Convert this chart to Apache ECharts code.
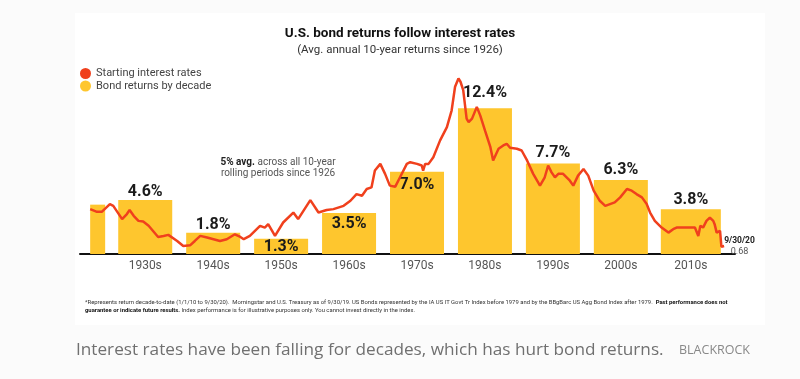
<!DOCTYPE html>
<html><head><meta charset="utf-8">
<script src="https://cdn.jsdelivr.net/npm/echarts@6/dist/echarts.min.js"></script>
<style>html,body{margin:0;padding:0;background:#fbfbfb;}#c{width:800px;height:379px;}</style>
</head><body><div id="c"></div>
<script>
// ---- data ----
const decadeLabels = ['1930s','1940s','1950s','1960s','1970s','1980s','1990s','2000s','2010s'];
const decadeCenters = [1935, 1945, 1955, 1965, 1975, 1985, 1995, 2005, 2015.3];
const decadeReturns = [4.6, 1.8, 1.3, 3.5, 7.0, 12.4, 7.7, 6.3, 3.8];
const partialCenter = [1928.0];
const partialReturn = [4.2];
const rateYears = [
  1926.9,1927.9,1928.6,1929.8,1930.3, 1931.6,1932.3,1932.7,1933.3,1934.0,
  1934.7,1935.5,1936.9,1937.7,1938.4, 1939.7,1940.6,1941.6,1942.3,1943.1,
  1944.1,1946.0,1947.0,1948.2,1949.0, 1949.5,1950.4,1951.9,1952.6,1953.1,
  1954.1,1955.3,1956.8,1957.5,1959.3, 1960.5,1961.7,1962.7,1964.2,1965.2,
  1966.1,1966.9,1967.6,1968.3,1968.8, 1969.6,1970.3,1971.0,1971.8,1972.5,
  1973.5,1974.0,1975.0,1975.7,1975.9, 1976.2,1976.7,1977.4,1978.4,1979.4,
  1980.1,1980.6,1981.1,1981.4,1981.8, 1982.3,1982.6,1983.1,1983.8,1984.3,
  1985.0,1985.8,1986.2,1987.0,1987.7, 1988.2,1988.7,1989.7,1990.4,1991.2,
  1992.1,1993.1,1993.8,1994.3,1994.8, 1995.3,1995.8,1996.5,1997.5,1998.0,
  1998.7,1999.5,2000.2,2001.0,2001.9, 2002.7,2003.4,2004.1,2004.9,2005.9,
  2006.6,2007.3,2008.1,2008.8,2009.3, 2010.0,2011.0,2012.0,2012.7,2013.2,
  2014.2,2015.2,2015.9,2016.4,2016.7, 2017.1,2017.6,2018.1,2018.6,2018.8,
  2019.1,2019.3,2019.6,2019.8,2020.2];
const rateValues = [
  3.82,3.59,3.59,4.25,4.1, 2.97,3.4,3.74,3.25,2.82,
  2.76,2.4,1.45,1.54,1.63, 1.11,0.68,0.74,1.11,1.54,
  1.4,1.11,1.26,1.68,1.45, 1.26,1.54,2.4,2.25,2.54,
  1.54,2.68,3.53,2.97,4.59, 3.53,3.74,3.82,4.1,4.53,
  5.1,4.96,5.53,5.67,7.1, 7.67,6.82,5.82,5.73,6.53,
  7.67,7.81,7.67,7.53,7.1, 7.67,7.67,8.24,9.67,10.8,
  12.23,14.23,14.94,14.66,13.94, 11.52,11.23,11.52,12.52,11.8,
  10.52,9.09,7.96,8.96,9.24, 9.38,9.04,8.96,8.81,7.96,
  6.82,5.82,6.53,7.53,6.95, 6.53,6.82,6.82,6.24,5.82,
  6.67,7.24,6.67,5.39,4.53, 4.1,4.25,4.39,4.82,5.53,
  5.39,5.1,4.82,4.25,3.53, 2.82,2.25,1.82,2.11,2.25,
  2.25,2.25,2.25,1.54,2.4, 2.25,2.82,3.1,2.82,2.54,
  1.82,1.68,1.97,0.62,0.68];
const endDateLabel = '9/30/20';
const endValueLabel = '0.68';

// ---- styles ----
const FONT = 'Roboto, "Noto Sans", sans-serif';
const BAR = '#FEC62E';
const LINE = '#F0401D';
const xMin = 1925.4, xMax = 2021.8;
const labelPlace = ['top','top','insideTop','insideTop','insideTop','top','top','top','top'];
const labelGap = [0, 0, 0, 3, 5, 7, 3, 2, 1];

function barItem(i) {
  return {
    value: [decadeCenters[i], decadeReturns[i]],
    label: { show: true, position: labelPlace[i], distance: labelGap[i],
      formatter: decadeReturns[i].toFixed(1) + '%',
      fontFamily: FONT, fontWeight: 'bold', fontSize: 16, color: '#1b1b1b' }
  };
}
const mainIdx = [0,1,2,3,4,5,6,7];
const lastIdx = [8];

function xAxisCfg(visible) {
  return {
    type: 'value', min: xMin, max: xMax, show: visible,
    axisLine: { show: true, onZero: false, lineStyle: { color: '#111', width: 2 } },
    axisTick: { show: false },
    splitLine: { show: false },
    axisLabel: {
      show: true, customValues: decadeCenters, margin: 6,
      fontFamily: FONT, fontSize: 12, color: '#555',
      formatter: function (v) {
        let best = 0;
        decadeCenters.forEach(function (c, k) { if (Math.abs(c - v) < Math.abs(decadeCenters[best] - v)) best = k; });
        return decadeLabels[best];
      }
    }
  };
}

const chart = echarts.init(document.getElementById('c'), null, { renderer: 'canvas' });
chart.setOption({
  backgroundColor: '#fbfbfb',
  animation: false,
  textStyle: { fontFamily: FONT },
  title: {
    text: 'U.S. bond returns follow interest rates',
    subtext: '(Avg. annual 10-year returns since 1926)',
    left: 'center', top: 22, itemGap: 3,
    textStyle: { fontFamily: FONT, fontWeight: 'bold', fontSize: 13.5, color: '#111' },
    subtextStyle: { fontFamily: FONT, fontSize: 11.5, color: '#333' }
  },
  legend: {
    orient: 'vertical', left: 75, top: 63, itemWidth: 11, itemHeight: 11, itemGap: 1.5,
    selectedMode: false,
    textStyle: { fontFamily: FONT, fontSize: 11, color: '#444' },
    data: [{ name: 'Starting interest rates', icon: 'circle' }, { name: 'Bond returns by decade', icon: 'circle' }]
  },
  grid: { left: 80, right: 65, top: 66, bottom: 125 },
  xAxis: [xAxisCfg(true), xAxisCfg(false), xAxisCfg(false)],
  yAxis: { type: 'value', min: 0, max: 16, show: false },
  graphic: [
    { type: 'rect', z: -10, silent: true, shape: { x: 75, y: 13, width: 690, height: 312 }, style: { fill: '#ffffff' } },
    { type: 'text', x: 278, y: 168, silent: true,
      style: { text: '{b|5% avg.} across all 10-year\nrolling periods since 1926', align: 'center', verticalAlign: 'middle',
        font: '10px ' + FONT, fill: '#555', lineHeight: 11,
        rich: { b: { fontFamily: FONT, fontSize: 10, fontWeight: 'bold', fill: '#222', lineHeight: 11 } } } },
    { type: 'text', x: 85, y: 306.5, silent: true,
      style: { text: '*Represents return decade-to-date (1/1/10 to 9/30/20).  Morningstar and U.S. Treasury as of 9/30/19. US Bonds represented by the IA US IT Govt Tr Index before 1979 and by the BBgBarc US Agg Bond Index after 1979.  {b|Past performance does not}\n{b|guarantee or indicate future results.} Index performance is for illustrative purposes only. You cannot invest directly in the index.',
        align: 'left', verticalAlign: 'middle', font: '5.9px ' + FONT, fill: '#333', lineHeight: 8.5,
        rich: { b: { fontFamily: FONT, fontSize: 5.9, fontWeight: 'bold', fill: '#111', lineHeight: 8.5 } } } },
    { type: 'text', x: 76, y: 350, silent: true,
      style: { text: 'Interest rates have been falling for decades, which has hurt bond returns.', align: 'left', verticalAlign: 'middle',
        font: '17.2px "Open Sans", ' + FONT, fill: '#707070' } },
    { type: 'text', x: 750, y: 350, silent: true,
      style: { text: 'BLACKROCK', align: 'right', verticalAlign: 'middle', font: '12.5px "Open Sans", ' + FONT, fill: '#888' } }
  ],
  series: [
    {
      name: 'Starting interest rates', type: 'line', xAxisIndex: 0, z: 5,
      showSymbol: false, symbol: 'none',
      lineStyle: { color: LINE, width: 2.5 }, itemStyle: { color: LINE },
      data: rateYears.map(function (y, i) { return [y, rateValues[i]]; }),
      endLabel: { show: true, distance: 2, offset: [-2, 0],
        formatter: '{a|' + endDateLabel + '}\n{v|' + endValueLabel + '}',
        rich: { a: { fontFamily: FONT, fontSize: 8.5, fontWeight: 'bold', color: '#222', align: 'center', lineHeight: 11 },
                v: { fontFamily: FONT, fontSize: 9, color: '#555', align: 'center', lineHeight: 11 } } }
    },
    { name: 'Bond returns by decade', type: 'bar', xAxisIndex: 0, barWidth: 54, z: 2,
      itemStyle: { color: BAR }, data: mainIdx.map(barItem) },
    { name: 'Bond returns by decade', type: 'bar', xAxisIndex: 1, barWidth: 60, z: 2,
      itemStyle: { color: BAR }, data: lastIdx.map(barItem) },
    { name: 'Bond returns by decade', type: 'bar', xAxisIndex: 2, barWidth: 15, z: 2,
      itemStyle: { color: BAR }, data: partialCenter.map(function (c, i) { return [c, partialReturn[i]]; }) }
  ]
});
</script></body></html>
